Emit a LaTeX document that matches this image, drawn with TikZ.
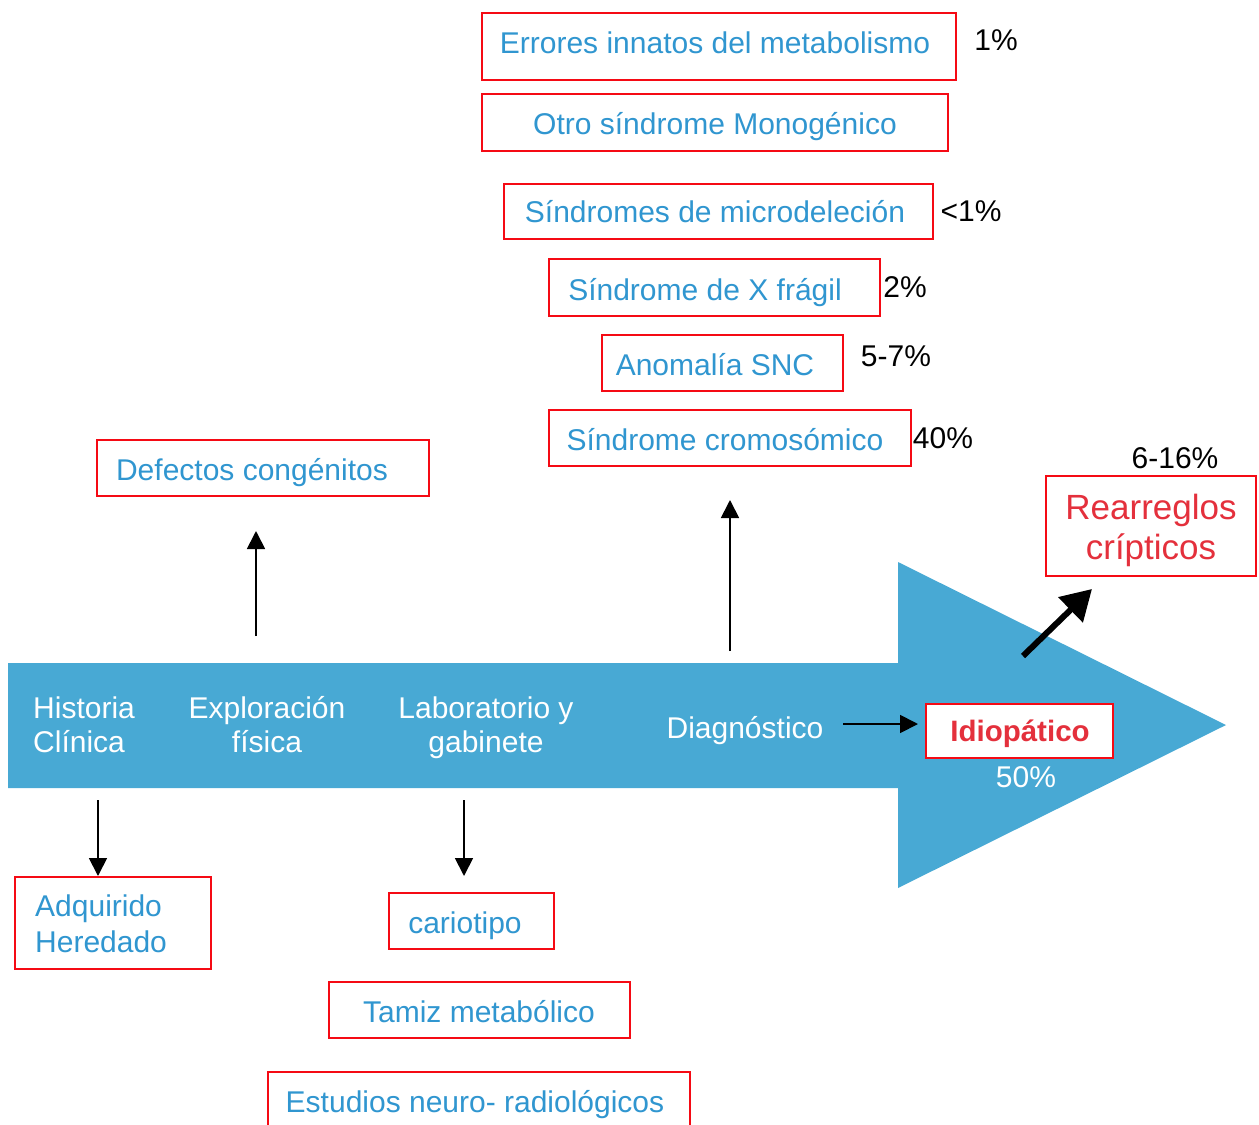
\documentclass[tikz,border=0pt]{standalone}
\usepackage{fontspec}
\setmainfont{Liberation Sans}
\usetikzlibrary{arrows.meta}
\definecolor{bandblue}{RGB}{72,169,212}
\definecolor{txtblue}{RGB}{48,150,208}
\definecolor{boxred}{RGB}{245,10,20}
\definecolor{rtxt}{RGB}{228,48,60}
\tikzset{
  rbox/.style={draw=boxred, line width=2pt, fill=white, inner sep=0pt},
  btxt/.style={text=txtblue, inner sep=0pt, anchor=base, font=\fontsize{30}{34}\selectfont},
  pct/.style={text=black, inner sep=0pt, anchor=base, font=\fontsize{30}{34}\selectfont},
  bandtxt/.style={text=white, inner sep=0pt, anchor=base, font=\fontsize{30}{35}\selectfont},
  thin arrow/.style={line width=1.8pt, -{Triangle[length=18pt,width=18pt]}},
}
\begin{document}
\begin{tikzpicture}[x=1pt,y=-1pt]
\useasboundingbox (0,0) rectangle (1259,1125);
% band and head
\fill[bandblue] (8,663) -- (898,663) -- (898,562) -- (1226,725) -- (898,888) -- (898,788) -- (8,788) -- cycle;
% band texts
\node[bandtxt, anchor=base west] (hc1) at (33,718.5) {Historia};
\node[bandtxt, anchor=base west] (hc2) at (33,752.5) {Clínica};
\node[bandtxt] (ef1) at (267,718.5) {Exploración};
\node[bandtxt] (ef2) at (267,752.5) {física};
\node[bandtxt] (lg1) at (486,718.5) {Laboratorio y};
\node[bandtxt] (lg2) at (486,752.5) {gabinete};
\node[bandtxt] (dg) at (745,738.5) {Diagnóstico};
% idiopatico
\node[rbox, minimum width=187pt, minimum height=54pt] (idio) at (1019.5,731) {};
\node[inner sep=0pt, anchor=base, text=rtxt, font=\bfseries\fontsize{29.5}{34}\selectfont] (idiot) at (1020,741.5) {Idiopático};
\node[text=white, inner sep=0pt, anchor=base, font=\fontsize{30}{34}\selectfont] (p50) at (1026,787.5) {50\%};
\coordinate (dgr) at (843,724);
\draw[thin arrow, shorten >=7pt] (dgr) -- (dgr -| idio.west);
% rearreglos
\node[rbox, line width=1.5pt, minimum width=210pt, minimum height=100pt] (rear) at (1151,526) {};
\node[inner sep=0pt, anchor=base, text=rtxt, font=\fontsize{35}{40}\selectfont] (rear1) at (1151,519.5) {Rearreglos};
\node[inner sep=0pt, anchor=base, text=rtxt, font=\fontsize{35}{40}\selectfont] (rear2) at (1151,559.5) {crípticos};
\node[pct] (p616) at (1175,468) {6-16\%};
\coordinate (thk) at (1023,656);
\draw[line width=6pt, -{Triangle[length=30pt,width=34pt]}] (thk) -- (1092,589);
% defectos
\node[rbox, minimum width=332pt, minimum height=56pt] (def) at (263,468) {};
\node[btxt] (deft) at (252,480) {Defectos congénitos};
\coordinate (defs) at (256,636);
\draw[thin arrow] (defs) -- (256,531);
% top stack
\node[rbox, minimum width=474pt, minimum height=67pt] (err) at (719,46.5) {};
\node[btxt] (errt) at (715,53) {Errores innatos del metabolismo};
\node[pct] (p1) at (996,50.5) {1\%};
\node[rbox, minimum width=466pt, minimum height=57pt] (otro) at (715,122.5) {};
\node[btxt] (otrot) at (715,134) {Otro síndrome Monogénico};
\node[rbox, minimum width=429pt, minimum height=55pt] (micro) at (718.5,211.5) {};
\node[btxt] (microt) at (715,222) {Síndromes de microdeleción};
\node[pct] (pm) at (971,221) {<1\%};
\node[rbox, minimum width=331pt, minimum height=57pt] (xfr) at (714.5,287.5) {};
\node[btxt] (xfrt) at (705,300) {Síndrome de X frágil};
\node[pct] (p2) at (905,297) {2\%};
\node[rbox, minimum width=241pt, minimum height=56pt] (snc) at (722.5,363) {};
\node[btxt] (snct) at (715,375) {Anomalía SNC};
\node[pct] (p57) at (896,366) {5-7\%};
\node[rbox, minimum width=362pt, minimum height=56pt] (crom) at (730,438) {};
\node[btxt] (cromt) at (725,450) {Síndrome cromosómico};
\node[pct] (p40) at (943,448) {40\%};
\coordinate (dgs) at (730,651);
\draw[thin arrow] (dgs) -- (730,500);
% bottom
\node[rbox, minimum width=196pt, minimum height=92pt] (adq) at (113,923) {};
\node[btxt, anchor=base west] (adq1) at (35,916) {Adquirido};
\node[btxt, anchor=base west] (adq2) at (35,952) {Heredado};
\coordinate (hcs) at (98,800);
\draw[thin arrow] (hcs) -- (adq.north -| hcs);
\node[rbox, minimum width=165pt, minimum height=56pt] (car) at (471.5,921) {};
\node[btxt] (cart) at (465,933) {cariotipo};
\coordinate (lgs) at (464,800);
\draw[thin arrow] (lgs) -- (464,876);
\node[rbox, minimum width=301pt, minimum height=56pt] (tam) at (479.5,1010) {};
\node[btxt] (tamt) at (479,1022) {Tamiz metabólico};
\node[rbox, minimum width=422pt, minimum height=70pt] (est) at (479,1107) {};
\node[btxt] (estt) at (475,1112) {Estudios neuro- radiológicos};
\end{tikzpicture}
\end{document}
